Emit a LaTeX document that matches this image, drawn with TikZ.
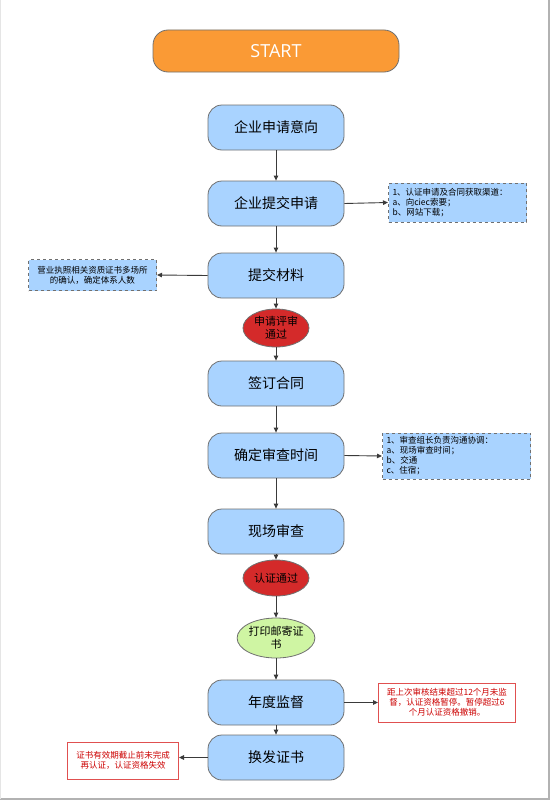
\documentclass[tikz,border=0pt]{standalone}
\usepackage{fontspec}
\setmainfont{Noto Sans CJK SC}
\newfontfamily\latinfont{Open Sans}
\usetikzlibrary{shapes.geometric,arrows.meta}
\definecolor{boxblue}{HTML}{A9D3FF}
\definecolor{notblue}{HTML}{A9D3FF}
\definecolor{startor}{HTML}{FA9A35}
\definecolor{redell}{HTML}{D42A2A}
\definecolor{greenell}{HTML}{CFF5A3}
\definecolor{redline}{HTML}{E05050}
\definecolor{edgegray}{HTML}{707070}
\definecolor{linegray}{HTML}{3A3A3A}
\tikzset{
  stepbox/.style={draw=edgegray, line width=0.8pt, fill=boxblue, rounded corners=14pt,
    minimum width=136pt, minimum height=45pt, inner sep=0pt, font=\fontsize{14}{16}\selectfont},
  notebox/.style={draw=edgegray, dashed, line width=1pt, fill=notblue, inner xsep=4pt, inner ysep=3pt,
    font=\fontsize{8.5}{10}\selectfont, align=left},
  rednote/.style={draw=redline, line width=1pt, fill=white, inner sep=2pt,
    font=\fontsize{8.5}{10}\selectfont, align=center, text=red!80!black},
  ellnode/.style={ellipse, draw=edgegray, line width=0.8pt, inner sep=0pt,
    font=\fontsize{11}{13}\selectfont, align=center},
  conn/.style={draw=linegray, line width=0.9pt, -{Triangle[length=5pt,width=4.5pt]}},
}
\begin{document}
\begin{tikzpicture}[x=1pt,y=-1pt]
\useasboundingbox (0,0) rectangle (550,800);
\fill[white] (0,0) rectangle (550,800);
\draw[gray!60, line width=1.5pt] (549,0) -- (549,799) -- (0,799);
\draw[gray!20, line width=0.8pt] (0.5,0) -- (0.5,799);

\node[draw=edgegray, line width=0.8pt, fill=startor, rounded corners=15pt,
  minimum width=246pt, minimum height=42pt, text=white,
  font=\latinfont\fontsize{18}{20}\selectfont] (start) at (276,51) {START};

\node[stepbox] (b1) at (276,127.5) {企业申请意向};
\node[stepbox] (b2) at (276,203.5) {企业提交申请};
\node[stepbox] (b3) at (276,275.5) {提交材料};
\node[ellnode, fill=redell, minimum width=66pt, minimum height=38pt] (e1) at (276,328) {申请评审\\通过};
\node[stepbox] (b4) at (276,383.5) {签订合同};
\node[stepbox] (b5) at (276,455.5) {确定审查时间};
\node[stepbox] (b6) at (276,531.5) {现场审查};
\node[ellnode, fill=redell, minimum width=66pt, minimum height=36pt] (e2) at (276,578) {认证通过};
\node[ellnode, fill=greenell, minimum width=62pt, minimum height=40pt] (e3) at (276,638) {打印邮寄证\\书};
\node[stepbox] (b7) at (276,702.5) {年度监督};
\node[stepbox] (b8) at (276,757.5) {换发证书};

\node[notebox, text width=130pt, minimum height=39pt, anchor=west] (n1) at (388,202.5)
  {1、认证申请及合同获取渠道：\\a、向ciec索要；\\b、网站下载；};
\node[notebox, minimum width=128pt, minimum height=31pt, align=center, anchor=east] (n2) at (157,275)
  {营业执照相关资质证书多场所\\的确认，确定体系人数};
\node[notebox, text width=140pt, minimum height=46pt, anchor=west] (n3) at (382,456)
  {1、审查组长负责沟通协调：\\a、现场审查时间；\\b、交通\\c、住宿；};
\node[rednote, minimum width=137pt, minimum height=39pt, anchor=west] (n4) at (378,702.5)
  {距上次审核结束超过12个月未监\\督，认证资格暂停。暂停超过6\\个月认证资格撤销。};
\node[rednote, minimum width=111pt, minimum height=37pt, anchor=east] (n5) at (179,760.5)
  {证书有效期截止前未完成\\再认证，认证资格失效};

\draw[conn] (b1) -- (b2);
\draw[conn] (b2) -- (b3);
\draw[conn] (b3) -- (e1);
\draw[conn] (e1) -- (b4);
\draw[conn] (b4) -- (b5);
\draw[conn] (b5) -- (b6);
\draw[conn] (b6) -- (e2);
\draw[conn] (e2) -- (e3);
\draw[conn] (e3) -- (b7);
\draw[conn] (b7) -- (b8);
\draw[conn] (b2.east) -- (n1.west);
\draw[conn] (b3.west) -- (n2.east);
\draw[conn] (b5.east) -- (n3.west);
\draw[conn] (b7.east) -- (n4.west);
\draw[conn] (b8.west) -- (n5.east |- b8.west);
\end{tikzpicture}
\end{document}
